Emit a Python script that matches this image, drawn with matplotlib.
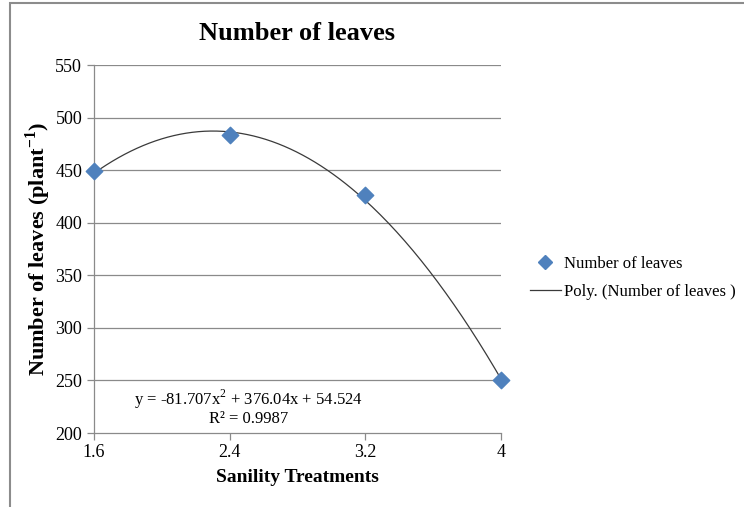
import matplotlib.pyplot as plt
import numpy as np
from matplotlib.patches import Rectangle
from matplotlib.lines import Line2D

plt.rcParams['font.family'] = ['Liberation Serif', 'DejaVu Serif']
plt.rcParams['mathtext.fontset'] = 'custom'
plt.rcParams['mathtext.rm'] = 'Liberation Serif'
plt.rcParams['mathtext.bf'] = 'Liberation Serif:bold'

# measured leaf counts per salinity treatment
treatments = [1.6, 2.4, 3.2, 4.0]
leaves = [449, 483, 426, 250]

# second order trendline as reported
coef = [-81.707, 376.04, 54.524]
r2 = 0.9987

yticks = [200, 250, 300, 350, 400, 450, 500, 550]
xticks = [1.6, 2.4, 3.2, 4.0]
xticklabels = ['1.6', '2.4', '3.2', '4']

W, H = 744, 507
fig = plt.figure(figsize=(W / 100, H / 100), dpi=100)
fig.patches.append(Rectangle((9.5 / W, -0.1), 2.0, 1.1 - 2.5 / H,
                             transform=fig.transFigure, fill=False,
                             edgecolor='#8c8c8c', linewidth=1.5))

ax = fig.add_axes([94 / W, 1 - 433 / H, (501 - 94) / W, (433 - 65) / H])
ax.set_xlim(1.6, 4.0)
ax.set_ylim(200, 550)

for yv in yticks[1:]:
    ax.axhline(yv, color='#8a8a8a', linewidth=0.9, zorder=1)

xs = np.linspace(1.6, 4.0, 200)
ax.plot(xs, np.polyval(coef, xs), color='#3a3a3a', linewidth=0.9, zorder=2)
ax.scatter(treatments, leaves, marker='D', s=70, color='#4F81BD',
           edgecolors='#4F81BD', zorder=3, clip_on=False)

for s in ['top', 'right']:
    ax.spines[s].set_visible(False)
for s in ['left', 'bottom']:
    ax.spines[s].set_color('#8a8a8a')
    ax.spines[s].set_linewidth(0.9)

ax.set_xticks(xticks)
ax.set_xticklabels(xticklabels)
ax.set_yticks(yticks)
ax.tick_params(axis='both', colors='#8a8a8a', labelcolor='black',
               labelsize=13, length=5, width=0.9)
ax.tick_params(axis='x', pad=3)

fig.text(297 / W, 1 - 33 / H, 'Number of leaves', fontsize=19,
         fontweight='bold', ha='center', va='center')
ax.set_xlabel('Sanility Treatments', fontsize=14, fontweight='bold', labelpad=6)
ax.set_ylabel('Number of leaves (plant$^{\\mathbf{-1}}$)', fontsize=16,
              fontweight='bold', labelpad=2)

ax.text(2.514, 232, 'y = %gx$^2$ + %gx + %g' % tuple(coef), ha='center',
        va='center', fontsize=12)
ax.text(2.514, 213, 'R² = %g' % r2, ha='center', va='center', fontsize=12)

handles = [Line2D([], [], marker='D', linestyle='none', color='#4F81BD',
                  markersize=7),
           Line2D([], [], color='#3a3a3a', linewidth=0.9)]
fig.legend(handles, ['Number of leaves', 'Poly. (Number of leaves )'],
           loc='center left', bbox_to_anchor=(530 / W, 1 - 278 / H),
           frameon=False, fontsize=12, handlelength=1.85, handletextpad=0.2,
           labelspacing=0.7, borderpad=0, borderaxespad=0)

fig.savefig('out.png', dpi=100)
